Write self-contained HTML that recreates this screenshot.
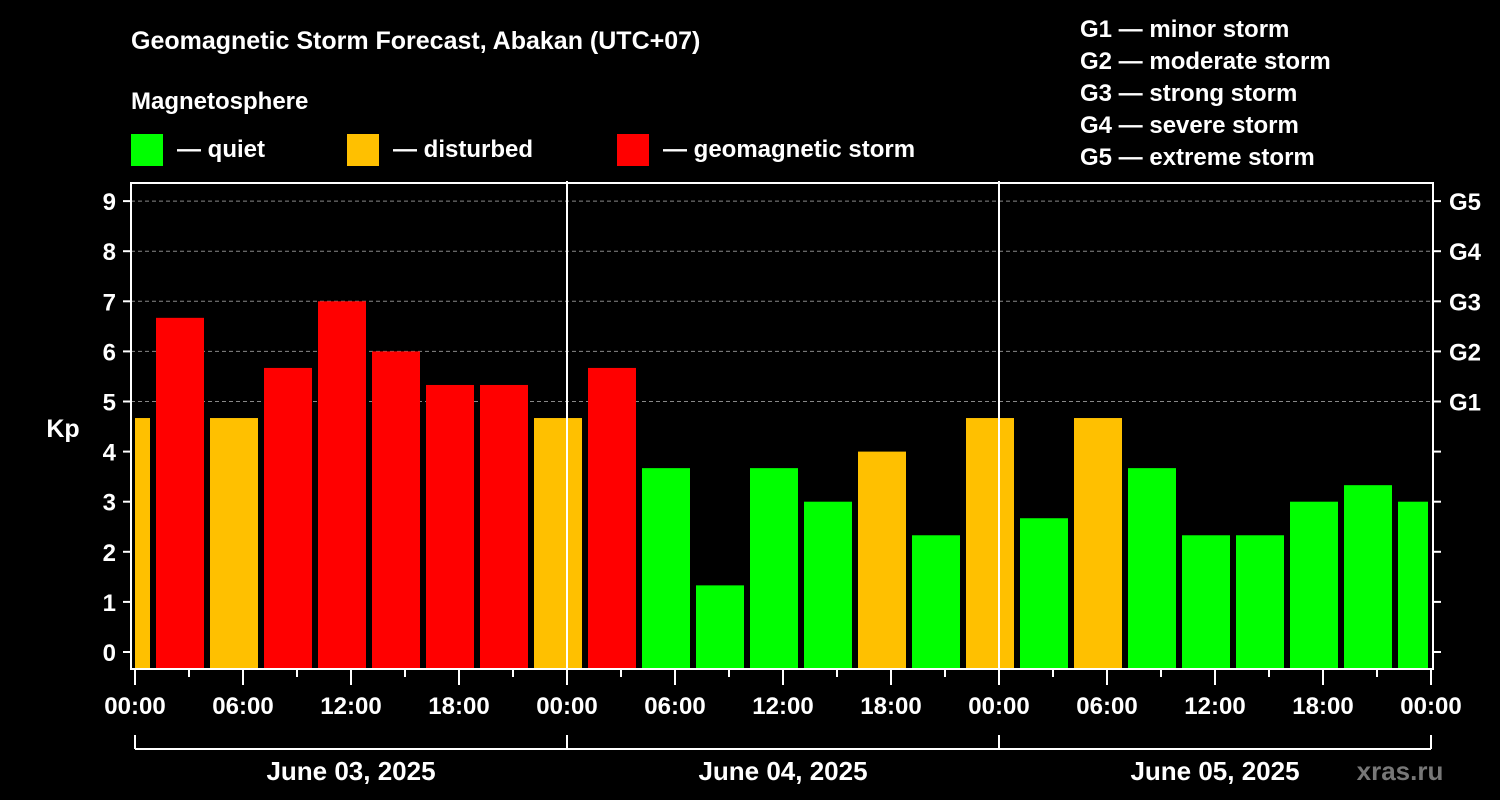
<!DOCTYPE html>
<html><head><meta charset="utf-8"><style>
html,body{margin:0;padding:0;background:#000;}
svg{display:block;font-family:"Liberation Sans",Arial,sans-serif;font-weight:bold;}
</style></head><body>
<svg id="chart" width="1500" height="800" viewBox="0 0 1500 800">
<rect width="1500" height="800" fill="#000"/>
<text x="131" y="49" fill="#fff" font-size="25">Geomagnetic Storm Forecast, Abakan (UTC+07)</text>
<text x="131" y="109" fill="#fff" font-size="24">Magnetosphere</text>
<g><rect x="131" y="134" width="32" height="32" fill="#00ff00"/><text x="177" y="157" fill="#fff" font-size="24">— quiet</text></g>
<g><rect x="347" y="134" width="32" height="32" fill="#ffc000"/><text x="393" y="157" fill="#fff" font-size="24">— disturbed</text></g>
<g><rect x="617" y="134" width="32" height="32" fill="#ff0000"/><text x="663" y="157" fill="#fff" font-size="24">— geomagnetic storm</text></g>
<g fill="#fff" font-size="24">
<text x="1080" y="37">G1 — minor storm</text>
<text x="1080" y="69">G2 — moderate storm</text>
<text x="1080" y="101">G3 — strong storm</text>
<text x="1080" y="133">G4 — severe storm</text>
<text x="1080" y="165">G5 — extreme storm</text>
</g>
<text x="63" y="437" fill="#fff" font-size="25" text-anchor="middle">Kp</text>
<g id="grid"></g>
<g id="bars"></g>
<g id="axes"></g>
<text x="1400" y="780" fill="#777" font-size="26" text-anchor="middle">xras.ru</text>
</svg>
<script>
const kpValues = [4.67,6.67,4.67,5.67,7,6,5.33,5.33,4.67,5.67,3.67,1.33,3.67,3,4,2.33,4.67,2.67,4.67,3.67,2.33,2.33,3,3.33,3];
const yTicks = [0,1,2,3,4,5,6,7,8,9];
const gLabels = ["G1","G2","G3","G4","G5"];
const gLevels = [5,6,7,8,9];
const hourLabels = ["00:00","06:00","12:00","18:00"];
const dayLabels = ["June 03, 2025","June 04, 2025","June 05, 2025"];
const startOffsetHours = -2; // first bar starts at 22:00 of previous day (local)

const NS="http://www.w3.org/2000/svg";
const X0=135, PXH=18, Y0=652, PXK=50.1, LEFT=131, RIGHT=1433, TOP=183, BOT=669;
const xs=h=>X0+h*PXH, ys=k=>Y0-k*PXK;
function mk(tag,attrs,parent){const e=document.createElementNS(NS,tag);for(const k in attrs)e.setAttribute(k,attrs[k]);parent.appendChild(e);return e;}
const grid=document.getElementById('grid'),bars=document.getElementById('bars'),axes=document.getElementById('axes');

gLevels.forEach(k=>{const l=mk('line',{x1:LEFT,x2:RIGHT,y1:ys(k),y2:ys(k),stroke:'#888','stroke-dasharray':'4,3','stroke-width':1},grid);

});

kpValues.forEach((v,i)=>{
  let h0=startOffsetHours+i*3, h1=h0+3;
  let a=Math.max(h0,0), b=Math.min(h1,72);
  let x1=xs(a)+(a===h0?3:0), x2=xs(b)-(b===h1?3:0)-(b===72?3:0);
  if(a===0&&h0<0){x1=xs(0);}
  const col=v>=5?'#ff0000':(v>=4?'#ffc000':'#00ff00');
  const r=mk('rect',{x:x1,y:ys(v),width:Math.max(0,x2-x1),height:BOT-ys(v),fill:col},bars);
  
  
});

const frame=mk('rect',{x:LEFT,y:TOP,width:RIGHT-LEFT,height:BOT-TOP,fill:'none',stroke:'#fff','stroke-width':2},axes);


[1,2].forEach(d=>{const l=mk('line',{x1:xs(d*24),x2:xs(d*24),y1:181,y2:BOT,stroke:'#fff','stroke-width':2},axes);

});

yTicks.forEach(k=>{
  mk('line',{x1:LEFT-8,x2:LEFT,y1:ys(k),y2:ys(k),stroke:'#fff','stroke-width':2},axes);
  mk('line',{x1:RIGHT,x2:RIGHT+8,y1:ys(k),y2:ys(k),stroke:'#fff','stroke-width':2},axes);
  const t=mk('text',{x:116,y:ys(k)+9,fill:'#fff','font-size':24,'text-anchor':'end'},axes);t.textContent=k;
  
  
});
gLabels.forEach((g,i)=>{const t=mk('text',{x:1449,y:ys(gLevels[i])+9,fill:'#fff','font-size':24},axes);t.textContent=g;
  
  });

for(let h=0;h<=72;h+=3){
  const major=h%6===0;
  mk('line',{x1:xs(h),x2:xs(h),y1:BOT,y2:BOT+(major?16:8),stroke:'#fff','stroke-width':2},axes);
  if(major){const t=mk('text',{x:xs(h),y:714,fill:'#fff','font-size':24,'text-anchor':'middle'},axes);
    t.textContent=hourLabels[(h/6)%4];
    
    }
}
const br=mk('line',{x1:xs(0),x2:xs(72),y1:749,y2:749,stroke:'#fff','stroke-width':2},axes);


[0,1,2,3].forEach(d=>mk('line',{x1:xs(d*24),x2:xs(d*24),y1:735,y2:749,stroke:'#fff','stroke-width':2},axes));
dayLabels.forEach((s,d)=>{const t=mk('text',{x:xs(d*24+12),y:780,fill:'#fff','font-size':26,'text-anchor':'middle'},axes);t.textContent=s;
  
  });
</script>
</body></html>
